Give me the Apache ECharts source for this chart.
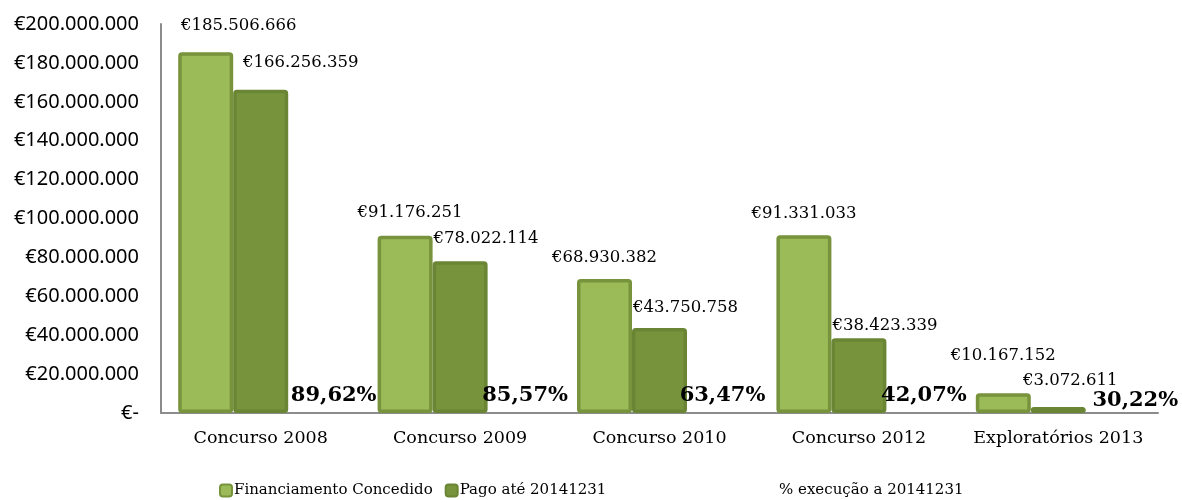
<!DOCTYPE html>
<html><head><meta charset="utf-8">
<script src="https://cdn.jsdelivr.net/npm/echarts@6/dist/echarts.min.js"></script>
<style>html,body{margin:0;padding:0;background:#fff}#c{width:1182px;height:500px}</style>
</head><body><div id="c"></div>
<script>
const categories = ['Concurso 2008', 'Concurso 2009', 'Concurso 2010', 'Concurso 2012', 'Exploratórios 2013'];
const financiamento = [185506666, 91176251, 68930382, 91331033, 10167152];
const pago = [166256359, 78022114, 43750758, 38423339, 3072611];
const execucao = [89.62, 85.57, 63.47, 42.07, 30.22];
const seriesNames = ['Financiamento Concedido', 'Pago até 20141231', '% execução a 20141231'];

// label placement tweaks (style only)
const offFin = [[33,-13],[5,-9],[0,-8],[0,-8],[0,-24]];
const offPago = [[40,-13],[26,-9],[26,-7],[26,1],[12,-13]];
const offPct = [[18,-2],[10,-2],[8,-2],[10,-2],[22,3]];

function euro(v){
  if (v === 0) return '€-';
  return '€' + String(Math.round(v)).replace(/\B(?=(\d{3})+(?!\d))/g, '.');
}
const serif = '"DejaVu Serif", serif';
const lblFont = {fontFamily: serif, fontSize: 16.5, color: '#000'};

const chart = echarts.init(document.getElementById('c'), null, {renderer:'canvas'});
chart.setOption({
  animation: false,
  grid: {left: 161, right: 24, top: 24, bottom: 87, containLabel: false},
  legend: [{
    top: 478, left: 214,
    itemWidth: 12, itemHeight: 12, itemGap: 12,
    textStyle: {fontFamily: serif, fontSize: 15, color: '#000', padding:[0,0,0,-3]},
    data: [seriesNames[0], seriesNames[1]]
  }, {
    top: 478, left: 760,
    itemWidth: 12, itemHeight: 12,
    textStyle: {fontFamily: serif, fontSize: 15, color: '#000', padding:[0,0,0,-3]},
    data: [seriesNames[2]]
  }],
  xAxis: {
    type: 'category', data: categories,
    axisLine: {lineStyle: {color: '#8c8c8c', width: 2}},
    axisTick: {show: false},
    axisLabel: {fontFamily: serif, fontSize: 17.5, color: '#000', margin: 16, interval: 0}
  },
  yAxis: {
    type: 'value', min: 0, max: 200000000, interval: 20000000,
    axisLine: {show: true, lineStyle: {color: '#8c8c8c', width: 2}},
    axisTick: {show: false},
    splitLine: {show: false},
    axisLabel: {fontFamily: '"Noto Sans", sans-serif', fontSize: 20, color: '#000', margin: 22, formatter: euro}
  },
  series: [
    {
      name: seriesNames[0], type: 'bar', barWidth: 55, barGap: '0%',
      itemStyle: {color: '#9BBB59', borderColor: '#77933C', borderWidth: 3.5, borderRadius: 2},
      data: financiamento.map((v,i) => ({value: v, label: {offset: offFin[i]}})),
      label: Object.assign({show: true, position: 'top', distance: 5, formatter: p => euro(p.value)}, lblFont)
    },
    {
      name: seriesNames[1], type: 'bar', barWidth: 55, barGap: '0%',
      itemStyle: {color: '#77933C', borderColor: '#6A8634', borderWidth: 3.5, borderRadius: 2},
      data: pago.map((v,i) => ({value: v, label: {offset: offPago[i]}})),
      label: Object.assign({show: true, position: 'top', distance: 5, formatter: p => euro(p.value)}, lblFont)
    },
    {
      name: seriesNames[2], type: 'bar', barWidth: 55, barGap: '0%',
      itemStyle: {color: 'rgba(0,0,0,0)'},
      data: execucao.map((v,i) => ({value: v, label: {offset: offPct[i]}})),
      label: {show: true, position: 'top', distance: 5, fontFamily: serif, fontSize: 21, fontWeight: 'bold', color: '#000',
        formatter: p => p.value.toFixed(2).replace('.', ',') + '%'}
    }
  ]
});
</script></body></html>
